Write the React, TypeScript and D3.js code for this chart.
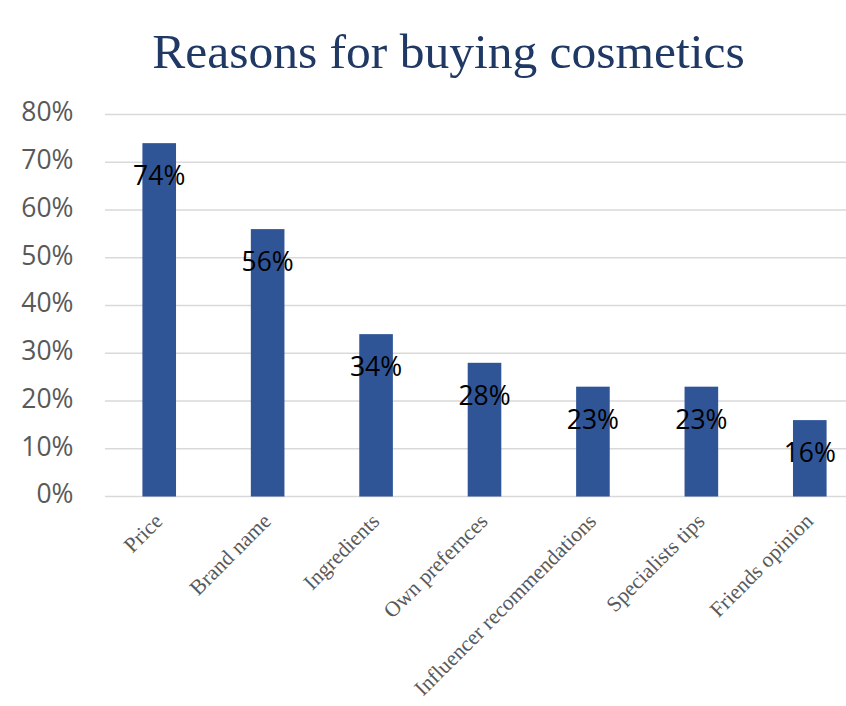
import React from "react";
import * as d3 from "d3";

const categories: string[] = [
  "Price",
  "Brand name",
  "Ingredients",
  "Own prefernces",
  "Influencer recommendations",
  "Specialists tips",
  "Friends opinion",
];
const values: number[] = [0.74, 0.56, 0.34, 0.28, 0.23, 0.23, 0.16];
const yTicks: number[] = [0, 0.1, 0.2, 0.3, 0.4, 0.5, 0.6, 0.7, 0.8];
const title = "Reasons for buying cosmetics";

const W = 846;
const H = 706;

export default function App() {
  const x = d3
    .scaleBand<string>()
    .domain(categories)
    .range([105, 864])
    .paddingInner(0.69)
    .paddingOuter(0.345);
  const y = d3.scaleLinear().domain([0, 0.8]).range([496.5, 114.5]);
  const fmt = d3.format(".0%");
  const sans = "'Open Sans', 'Liberation Sans', sans-serif";
  const serif = "'Liberation Serif', 'Times New Roman', serif";

  return (
    <svg
      width={W}
      height={H}
      style={{ position: "absolute", left: 0, top: 0, background: "#fff", overflow: "hidden" }}
    >
      <rect x={0} y={0} width={W} height={H} fill="#fff" />
      <text
        x={448.5}
        y={67.5}
        textAnchor="middle"
        fontFamily={serif}
        fontSize={49.5}
        fill="#1F3864"
      >
        {title}
      </text>
      {yTicks.map((t) => (
        <g key={t}>
          <line x1={105} x2={W} y1={y(t)} y2={y(t)} stroke="#D9D9D9" strokeWidth={1.4} />
          <text
            x={73.5}
            y={y(t) + 6.8}
            textAnchor="end"
            fontFamily={sans}
            fontSize={26.5}
            fill="#595959"
          >
            {fmt(t)}
          </text>
        </g>
      ))}
      {categories.map((c, i) => {
        const bx = x(c) as number;
        const bw = x.bandwidth();
        const cx = bx + bw / 2;
        return (
          <g key={c}>
            <rect x={bx} y={y(values[i])} width={bw} height={y(0) - y(values[i])} fill="#2F5597" />
            <text
              x={cx}
              y={y(values[i]) + 42}
              textAnchor="middle"
              fontFamily={sans}
              fontSize={26.5}
              fill="#000"
            >
              {fmt(values[i])}
            </text>
            <text
              transform={`translate(${cx + 4.5},${y(0) + 26}) rotate(-45)`}
              textAnchor="end"
              fontFamily={serif}
              fontSize={21.5}
              fill="#595959"
            >
              {c}
            </text>
          </g>
        );
      })}
    </svg>
  );
}
